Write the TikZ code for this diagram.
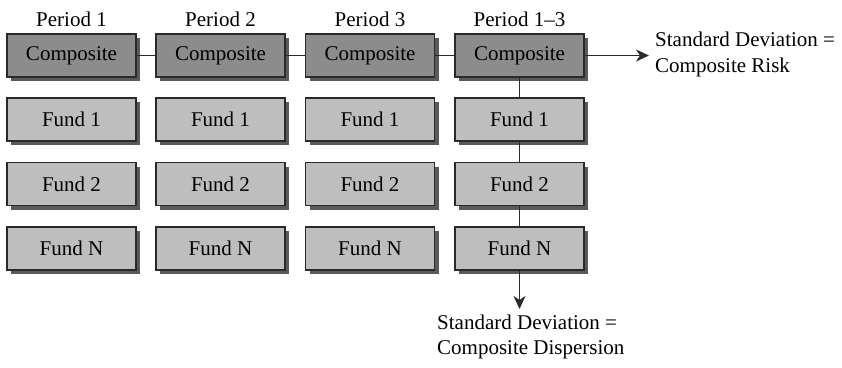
\documentclass[tikz,border=0pt]{standalone}
\usepackage{fontspec}
\setmainfont{Liberation Serif}
\usetikzlibrary{shadows,arrows.meta}
\definecolor{compfill}{HTML}{8C8C8C}
\definecolor{fundfill}{HTML}{BEBEBE}
\definecolor{shadowc}{HTML}{5A5A5A}
\definecolor{edge}{HTML}{2A2A2A}
\begin{document}
\begin{tikzpicture}[x=1pt,y=-1pt,
  box/.style={draw=edge,line width=1.6pt,minimum width=129pt,minimum height=43pt,inner sep=0pt,
    font=\fontsize{21}{25}\selectfont,
    drop shadow={shadow xshift=4pt,shadow yshift=-4pt,fill=shadowc,opacity=1}},
  compbox/.style={box,fill=compfill},
  fundbox/.style={box,fill=fundfill},
  lbl/.style={font=\fontsize{21}{25}\selectfont,inner sep=0pt},
  link/.style={draw=edge,line width=1.6pt},
  arr/.style={link,-{Stealth[length=13pt,width=12pt,inset=4pt]}}]
\useasboundingbox (0,0) rectangle (842,367);
\foreach \i/\x/\p in {1/71.5/Period 1,2/220.5/Period 2,3/370/Period 3,4/519.5/Period 1--3}{
  \node[lbl] (p\i) at (\x,19) {\p};
  \node[compbox] (c\i) at (\x,55.5) {Composite};
  \node[fundbox] (fa\i) at (\x,119.5) {Fund 1};
  \node[fundbox] (fb\i) at (\x,184) {Fund 2};
  \node[fundbox] (fn\i) at (\x,248.5) {Fund N};
}
\draw[link] (c1) -- (c2);
\draw[link] (c2) -- (c3);
\draw[link] (c3) -- (c4);
\draw[link] (c4) -- (fa4);
\draw[link] (fa4) -- (fb4);
\draw[link] (fb4) -- (fn4);
\coordinate (r) at (649,55.5);
\coordinate (d) at (519.5,309);
\draw[arr] (c4) -- (r);
\draw[arr] (fn4) -- (d);
\node[lbl,anchor=north west,align=left,font=\fontsize{21}{26}\selectfont] (t1) at (655,32) {Standard Deviation =\\Composite Risk};
\node[lbl,anchor=north west,align=left,font=\fontsize{21}{25}\selectfont] (t2) at (437,315) {Standard Deviation =\\Composite Dispersion};
\end{tikzpicture}
\end{document}
